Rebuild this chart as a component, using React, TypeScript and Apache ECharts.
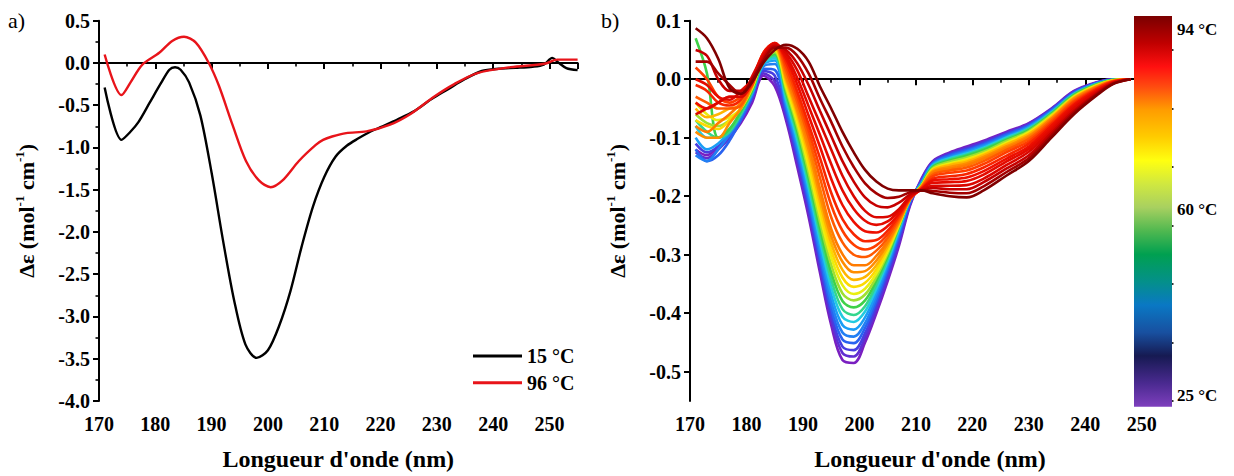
import React, { useEffect, useRef } from "react";
import * as echarts from "echarts";

const FONT = "Liberation Serif";

// ---------- panel a) ----------
const wl15 = [171, 174, 175.5, 177, 179, 181, 182.5, 183.5, 184.5, 186, 188, 190, 192, 194, 196, 198, 200, 202, 204, 206, 208, 210, 212, 214, 216, 218, 220, 223, 226, 229, 232, 235, 238, 241, 244, 247, 249, 250.5, 251.5, 253, 255];
const de15 = [-0.29, -0.91, -0.82, -0.7, -0.47, -0.24, -0.08, -0.05, -0.08, -0.23, -0.62, -1.3, -2.09, -2.81, -3.33, -3.49, -3.4, -3.11, -2.7, -2.17, -1.7, -1.35, -1.11, -0.98, -0.895, -0.82, -0.76, -0.67, -0.57, -0.43, -0.31, -0.19, -0.095, -0.068, -0.058, -0.045, -0.02, 0.06, 0.01, -0.06, -0.085];
const wl96 = [171, 174, 175.6, 177.7, 180.7, 183, 185.1, 187.2, 189.5, 191.3, 193.7, 196.1, 198.4, 200.5, 202.6, 205.5, 208.5, 209.8, 211.4, 213.9, 217.5, 221.7, 225.4, 229.5, 233.1, 237.2, 243.1, 249.1, 251.4, 255];
const de96 = [0.1, -0.38, -0.23, -0.02, 0.12, 0.26, 0.31, 0.24, 0.0, -0.27, -0.73, -1.16, -1.39, -1.47, -1.39, -1.16, -0.97, -0.91, -0.87, -0.83, -0.81, -0.73, -0.6, -0.4, -0.25, -0.12, -0.05, -0.01, 0.04, 0.04];
const seriesNamesA = ["15 °C", "96 °C"];

// ---------- panel b) ----------
const wlB = [171, 173, 175, 177, 179, 181, 183, 185, 187, 189, 191, 193, 195, 197, 199, 201, 203, 205, 207, 209, 211, 213, 216, 219, 222, 226, 230, 234, 238, 242, 245, 248];
const tempsB = [25, 28, 31, 37, 40, 43, 46, 49, 51, 56, 61, 66, 70, 75, 77, 80, 82, 84, 86, 87, 88, 90, 92, 94];
const spectraB = [
  [-0.12, -0.13, -0.115, -0.1, -0.075, -0.04, 0.006, -0.012, -0.07, -0.15, -0.235, -0.33, -0.42, -0.48, -0.485, -0.45, -0.4, -0.345, -0.285, -0.215, -0.17, -0.14, -0.125, -0.115, -0.105, -0.09, -0.075, -0.05, -0.02, -0.005, 0, 0],
  [-0.125, -0.135, -0.12, -0.1, -0.07, -0.035, 0.01, -0.004, -0.064, -0.142, -0.227, -0.322, -0.41, -0.468, -0.474, -0.442, -0.393, -0.339, -0.28, -0.213, -0.172, -0.141, -0.127, -0.117, -0.107, -0.092, -0.076, -0.051, -0.021, -0.006, 0, 0],
  [-0.11, -0.125, -0.115, -0.095, -0.07, -0.03, 0.014, 0.006, -0.058, -0.134, -0.219, -0.313, -0.401, -0.457, -0.463, -0.434, -0.386, -0.332, -0.274, -0.211, -0.174, -0.143, -0.128, -0.119, -0.109, -0.093, -0.078, -0.052, -0.022, -0.006, 0, 0],
  [-0.12, -0.14, -0.13, -0.105, -0.07, -0.03, 0.018, 0.016, -0.051, -0.126, -0.21, -0.304, -0.391, -0.445, -0.451, -0.425, -0.379, -0.326, -0.268, -0.209, -0.175, -0.144, -0.13, -0.121, -0.111, -0.095, -0.079, -0.053, -0.023, -0.007, -0.001, 0],
  [-0.13, -0.14, -0.12, -0.095, -0.065, -0.025, 0.022, 0.026, -0.045, -0.118, -0.202, -0.295, -0.38, -0.433, -0.44, -0.417, -0.372, -0.32, -0.263, -0.207, -0.177, -0.145, -0.132, -0.123, -0.113, -0.097, -0.081, -0.055, -0.024, -0.007, -0.001, 0],
  [-0.1, -0.12, -0.11, -0.09, -0.06, -0.025, 0.025, 0.032, -0.04, -0.111, -0.194, -0.285, -0.368, -0.42, -0.428, -0.407, -0.365, -0.316, -0.26, -0.206, -0.178, -0.146, -0.134, -0.125, -0.115, -0.099, -0.082, -0.056, -0.025, -0.008, -0.001, 0],
  [-0.08, -0.1, -0.1, -0.085, -0.06, -0.02, 0.027, 0.036, -0.034, -0.104, -0.185, -0.275, -0.355, -0.406, -0.415, -0.397, -0.358, -0.311, -0.257, -0.205, -0.179, -0.148, -0.135, -0.127, -0.117, -0.1, -0.084, -0.057, -0.026, -0.008, -0.001, 0],
  [-0.07, -0.09, -0.1, -0.09, -0.06, -0.02, 0.029, 0.04, -0.028, -0.096, -0.177, -0.264, -0.342, -0.393, -0.403, -0.388, -0.351, -0.307, -0.254, -0.205, -0.18, -0.149, -0.137, -0.129, -0.119, -0.102, -0.085, -0.058, -0.026, -0.009, -0.001, 0],
  [0.07, 0.01, -0.1, -0.085, -0.055, -0.02, 0.031, 0.043, -0.022, -0.089, -0.168, -0.254, -0.33, -0.379, -0.39, -0.378, -0.344, -0.302, -0.252, -0.204, -0.181, -0.15, -0.139, -0.131, -0.121, -0.104, -0.087, -0.059, -0.027, -0.009, -0.001, 0],
  [-0.06, -0.075, -0.08, -0.07, -0.05, -0.015, 0.033, 0.046, -0.017, -0.081, -0.159, -0.243, -0.317, -0.366, -0.378, -0.368, -0.338, -0.298, -0.25, -0.204, -0.182, -0.152, -0.141, -0.134, -0.124, -0.106, -0.089, -0.061, -0.029, -0.01, -0.002, 0],
  [-0.04, -0.06, -0.07, -0.065, -0.05, -0.015, 0.035, 0.049, -0.012, -0.074, -0.149, -0.232, -0.304, -0.352, -0.367, -0.358, -0.332, -0.294, -0.249, -0.204, -0.182, -0.154, -0.144, -0.137, -0.127, -0.109, -0.091, -0.063, -0.03, -0.011, -0.002, 0],
  [-0.07, -0.08, -0.085, -0.07, -0.05, -0.01, 0.037, 0.052, -0.007, -0.067, -0.14, -0.221, -0.292, -0.339, -0.355, -0.348, -0.325, -0.29, -0.248, -0.204, -0.183, -0.155, -0.146, -0.139, -0.128, -0.111, -0.093, -0.064, -0.031, -0.011, -0.002, 0],
  [-0.05, -0.065, -0.06, -0.05, -0.045, -0.01, 0.039, 0.054, -0.002, -0.06, -0.13, -0.209, -0.28, -0.326, -0.343, -0.338, -0.318, -0.286, -0.246, -0.205, -0.183, -0.156, -0.147, -0.141, -0.13, -0.112, -0.094, -0.065, -0.032, -0.012, -0.002, 0],
  [-0.09, -0.1, -0.1, -0.075, -0.05, -0.012, 0.041, 0.056, 0.003, -0.054, -0.12, -0.198, -0.268, -0.312, -0.33, -0.328, -0.31, -0.281, -0.244, -0.205, -0.184, -0.158, -0.15, -0.144, -0.133, -0.115, -0.097, -0.067, -0.033, -0.013, -0.003, 0],
  [-0.08, -0.09, -0.075, -0.06, -0.04, -0.01, 0.043, 0.058, 0.008, -0.047, -0.11, -0.186, -0.256, -0.299, -0.318, -0.318, -0.302, -0.277, -0.242, -0.205, -0.184, -0.16, -0.153, -0.147, -0.136, -0.118, -0.099, -0.068, -0.035, -0.013, -0.003, 0],
  [-0.03, -0.04, -0.05, -0.05, -0.045, -0.005, 0.044, 0.06, 0.015, -0.039, -0.099, -0.168, -0.236, -0.279, -0.3, -0.304, -0.293, -0.271, -0.239, -0.204, -0.185, -0.163, -0.156, -0.151, -0.14, -0.121, -0.102, -0.071, -0.037, -0.015, -0.003, 0],
  [0.02, 0.0, -0.03, -0.04, -0.03, -0.01, 0.045, 0.061, 0.022, -0.03, -0.088, -0.151, -0.215, -0.259, -0.283, -0.291, -0.284, -0.265, -0.236, -0.204, -0.186, -0.166, -0.16, -0.156, -0.145, -0.125, -0.106, -0.074, -0.039, -0.016, -0.004, 0],
  [-0.01, -0.02, -0.04, -0.045, -0.035, 0.0, 0.045, 0.062, 0.029, -0.021, -0.077, -0.134, -0.194, -0.239, -0.265, -0.277, -0.275, -0.259, -0.233, -0.203, -0.187, -0.17, -0.166, -0.162, -0.151, -0.131, -0.11, -0.077, -0.042, -0.017, -0.004, 0],
  [-0.04, -0.05, -0.04, -0.03, -0.03, -0.005, 0.044, 0.062, 0.035, -0.009, -0.062, -0.115, -0.17, -0.215, -0.244, -0.26, -0.262, -0.251, -0.23, -0.202, -0.188, -0.173, -0.171, -0.168, -0.157, -0.136, -0.115, -0.08, -0.044, -0.019, -0.005, 0],
  [0.0, -0.01, -0.03, -0.035, -0.02, 0.0, 0.042, 0.061, 0.04, 0.002, -0.046, -0.095, -0.145, -0.19, -0.222, -0.242, -0.249, -0.243, -0.225, -0.201, -0.188, -0.177, -0.176, -0.174, -0.163, -0.141, -0.119, -0.084, -0.047, -0.021, -0.005, 0],
  [-0.06, -0.05, -0.04, -0.03, -0.03, 0.005, 0.04, 0.06, 0.045, 0.015, -0.03, -0.075, -0.12, -0.165, -0.2, -0.225, -0.236, -0.235, -0.222, -0.2, -0.189, -0.182, -0.182, -0.181, -0.17, -0.147, -0.124, -0.088, -0.05, -0.022, -0.006, 0],
  [0.05, 0.04, 0.0, -0.02, -0.02, -0.005, 0.036, 0.057, 0.05, 0.027, -0.01, -0.054, -0.097, -0.14, -0.175, -0.202, -0.216, -0.219, -0.211, -0.197, -0.19, -0.186, -0.188, -0.188, -0.176, -0.153, -0.13, -0.092, -0.054, -0.024, -0.007, 0],
  [0.03, 0.03, 0.01, -0.01, -0.025, 0.0, 0.032, 0.054, 0.054, 0.04, 0.01, -0.033, -0.073, -0.115, -0.15, -0.178, -0.195, -0.203, -0.201, -0.193, -0.19, -0.191, -0.194, -0.195, -0.183, -0.159, -0.135, -0.096, -0.057, -0.026, -0.007, 0],
  [0.087, 0.07, 0.035, -0.015, -0.025, -0.005, 0.028, 0.05, 0.059, 0.052, 0.03, -0.012, -0.05, -0.09, -0.125, -0.155, -0.175, -0.187, -0.19, -0.19, -0.19, -0.195, -0.2, -0.202, -0.19, -0.165, -0.14, -0.1, -0.06, -0.028, -0.008, 0],
];
const tempMin = 25;
const tempMax = 94;
const colorbarLabels = [94, 60, 25];

// ---------- styles ----------
const lineStops: [number, string][] = [
  [0, "#7a1fc0"], [0.08, "#4a3ae0"], [0.17, "#2a5ff0"], [0.26, "#1a9cf5"], [0.3, "#20c8e8"],
  [0.34, "#30d8a0"], [0.38, "#40d040"], [0.45, "#a0e030"], [0.52, "#e8f010"], [0.6, "#ffd800"],
  [0.66, "#ffb000"], [0.72, "#ff9000"], [0.78, "#ff6a00"], [0.83, "#ff3a00"], [0.88, "#f01000"],
  [0.94, "#c80000"], [1, "#800000"],
];
const barStops: [number, string][] = [
  [0, "#7e3fbd"], [0.06, "#4a2a90"], [0.13, "#161a52"], [0.19, "#1850a0"], [0.26, "#0a78c4"],
  [0.32, "#04908a"], [0.39, "#00a050"], [0.45, "#50b850"], [0.51, "#a8d060"], [0.57, "#d0e840"],
  [0.63, "#ffff10"], [0.69, "#ffcc00"], [0.76, "#ff9c00"], [0.82, "#ff4a10"], [0.87, "#ff1010"],
  [0.93, "#c00000"], [1, "#7a0000"],
];

function hexToRgb(h: string) {
  const n = parseInt(h.slice(1), 16);
  return [(n >> 16) & 255, (n >> 8) & 255, n & 255];
}
function colorAt(stops: [number, string][], f: number) {
  for (let k = 1; k < stops.length; k++) {
    if (f <= stops[k][0]) {
      const [f0, c0] = stops[k - 1];
      const [f1, c1] = stops[k];
      const t = (f - f0) / (f1 - f0 || 1);
      const a = hexToRgb(c0), b = hexToRgb(c1);
      const r = a.map((v, i) => Math.round(v + (b[i] - v) * t));
      return `rgb(${r[0]},${r[1]},${r[2]})`;
    }
  }
  return stops[stops.length - 1][1];
}

const axisCommon = {
  axisLine: { show: true, lineStyle: { color: "#000", width: 2 } },
  axisTick: { show: true, inside: false, length: 6, lineStyle: { color: "#000", width: 2 } },
  minorTick: { show: true, splitNumber: 2, length: 3.5, lineStyle: { color: "#000", width: 1.6 } },
  splitLine: { show: false },
  minorSplitLine: { show: false },
};
const tickFont = { fontFamily: FONT, fontWeight: "bold" as const, fontSize: 20, color: "#000" };
const nameFont = { fontFamily: FONT, fontWeight: "bold" as const, fontSize: 24, color: "#000" };
const yName = "{m|Δε (mol}{s|-1}{m| cm}{s|-1}{m|)}";
const yNameStyle = {
  rich: {
    m: { fontFamily: FONT, fontWeight: "bold", fontSize: 22, color: "#000", lineHeight: 26 },
    s: { fontFamily: FONT, fontWeight: "bold", fontSize: 13, color: "#000", lineHeight: 14, verticalAlign: "top" },
  },
};

export default function App() {
  const ref = useRef<HTMLDivElement>(null);
  useEffect(() => {
    document.body.style.margin = "0";
    if (!ref.current) return;
    const chart = echarts.init(ref.current, undefined, { renderer: "svg" });

    const seriesA = [
      { name: seriesNamesA[0], type: "line", xAxisIndex: 0, yAxisIndex: 0, data: wl15.map((w, i) => [w, de15[i]]), showSymbol: false, smooth: 0.3, lineStyle: { color: "#000", width: 2.4 }, itemStyle: { color: "#000" } },
      { name: seriesNamesA[1], type: "line", xAxisIndex: 0, yAxisIndex: 0, data: wl96.map((w, i) => [w, de96[i]]), showSymbol: false, smooth: 0.3, lineStyle: { color: "#e8141a", width: 2.4 }, itemStyle: { color: "#e8141a" } },
    ];
    const seriesB = tempsB.map((t, i) => {
      const c = colorAt(lineStops, (t - tempMin) / (tempMax - tempMin));
      return {
        name: `${t} °C`,
        type: "line",
        xAxisIndex: 1,
        yAxisIndex: 1,
        data: wlB.map((w, j) => [w, spectraB[i][j]]),
        showSymbol: false,
        smooth: 0.35,
        lineStyle: { color: c, width: 2.6 },
        itemStyle: { color: c },
      };
    });

    const barTop = 16, barBottom = 406.7, barX = 1134, barW = 38;
    const barGrad = new echarts.graphic.LinearGradient(0, 0, 0, 1, barStops.map(([f, c]) => ({ offset: 1 - f, color: c })).reverse());
    const labelY = (t: number) => 395 - ((t - 25) / (94 - 25)) * (395 - 29);

    const option: any = {
      animation: false,
      backgroundColor: "#fff",
      textStyle: { fontFamily: FONT },
      grid: [
        { left: 99, top: 20.7, width: 478.6, height: 386 },
        { left: 690, top: 20.7, width: 480, height: 386 },
      ],
      legend: {
        data: seriesNamesA,
        orient: "vertical",
        left: 473,
        top: 346,
        padding: 0,
        itemWidth: 49,
        itemHeight: 3,
        itemGap: 6.7,
        icon: "rect",
        selectedMode: false,
        textStyle: { fontFamily: FONT, fontWeight: "bold", fontSize: 20, color: "#000" },
      },
      xAxis: [
        {
          type: "value", gridIndex: 0, min: 170, max: 255, interval: 10, ...axisCommon,
          axisLabel: { ...tickFont, margin: 13 },
          name: "Longueur d'onde (nm)", nameLocation: "middle", nameGap: 46, nameTextStyle: nameFont,
        },
        {
          type: "value", gridIndex: 1, min: 170, max: 255, interval: 10, ...axisCommon,
          axisLabel: { ...tickFont, margin: 13 },
          name: "Longueur d'onde (nm)", nameLocation: "middle", nameGap: 46, nameTextStyle: nameFont,
        },
      ],
      yAxis: [
        {
          type: "value", gridIndex: 0, min: -4, max: 0.5, interval: 0.5, ...axisCommon,
          axisLabel: { ...tickFont, margin: 9, formatter: (v: number) => v.toFixed(1) },
          name: yName, nameLocation: "middle", nameGap: 60, nameRotate: 90, nameTextStyle: yNameStyle,
        },
        {
          type: "value", gridIndex: 1, min: -0.55, max: 0.1, ...axisCommon,
          minorTick: { show: false },
          axisTick: { ...axisCommon.axisTick, customValues: [-0.5, -0.4, -0.3, -0.2, -0.1, 0, 0.1] },
          axisLabel: { ...tickFont, margin: 9, customValues: [-0.5, -0.4, -0.3, -0.2, -0.1, 0, 0.1], formatter: (v: number) => v.toFixed(1) },
          name: yName, nameLocation: "middle", nameGap: 60, nameRotate: 90, nameTextStyle: yNameStyle,
        },
        {
          type: "value", gridIndex: 1, min: -0.55, max: 0.1,
          axisLine: { show: false },
          axisLabel: { show: false },
          splitLine: { show: false },
          axisTick: { show: true, inside: false, length: 3.5, lineStyle: { color: "#000", width: 1.6 }, customValues: [-0.55, -0.45, -0.35, -0.25, -0.15, -0.05, 0.05] },
        },
      ],
      series: [...seriesA, ...seriesB],
      graphic: [
        { type: "text", left: 8, top: 9, style: { text: "a)", fontFamily: FONT, fontSize: 22, fill: "#000" } },
        { type: "text", left: 601, top: 9, style: { text: "b)", fontFamily: FONT, fontSize: 22, fill: "#000" } },
        { type: "rect", shape: { x: barX, y: barTop, width: barW, height: barBottom - barTop }, style: { fill: barGrad }, z: 100 },
        ...colorbarLabels.map((t) => ({
          type: "text", x: 1177, y: labelY(t), z: 100,
          style: { text: `${t} °C`, fontFamily: FONT, fontWeight: "bold", fontSize: 17, fill: "#000", verticalAlign: "middle", align: "left" },
        })),
      ],
    };
    chart.setOption(option);
    return () => chart.dispose();
  }, []);
  return <div ref={ref} style={{ width: 1234, height: 476 }} />;
}
